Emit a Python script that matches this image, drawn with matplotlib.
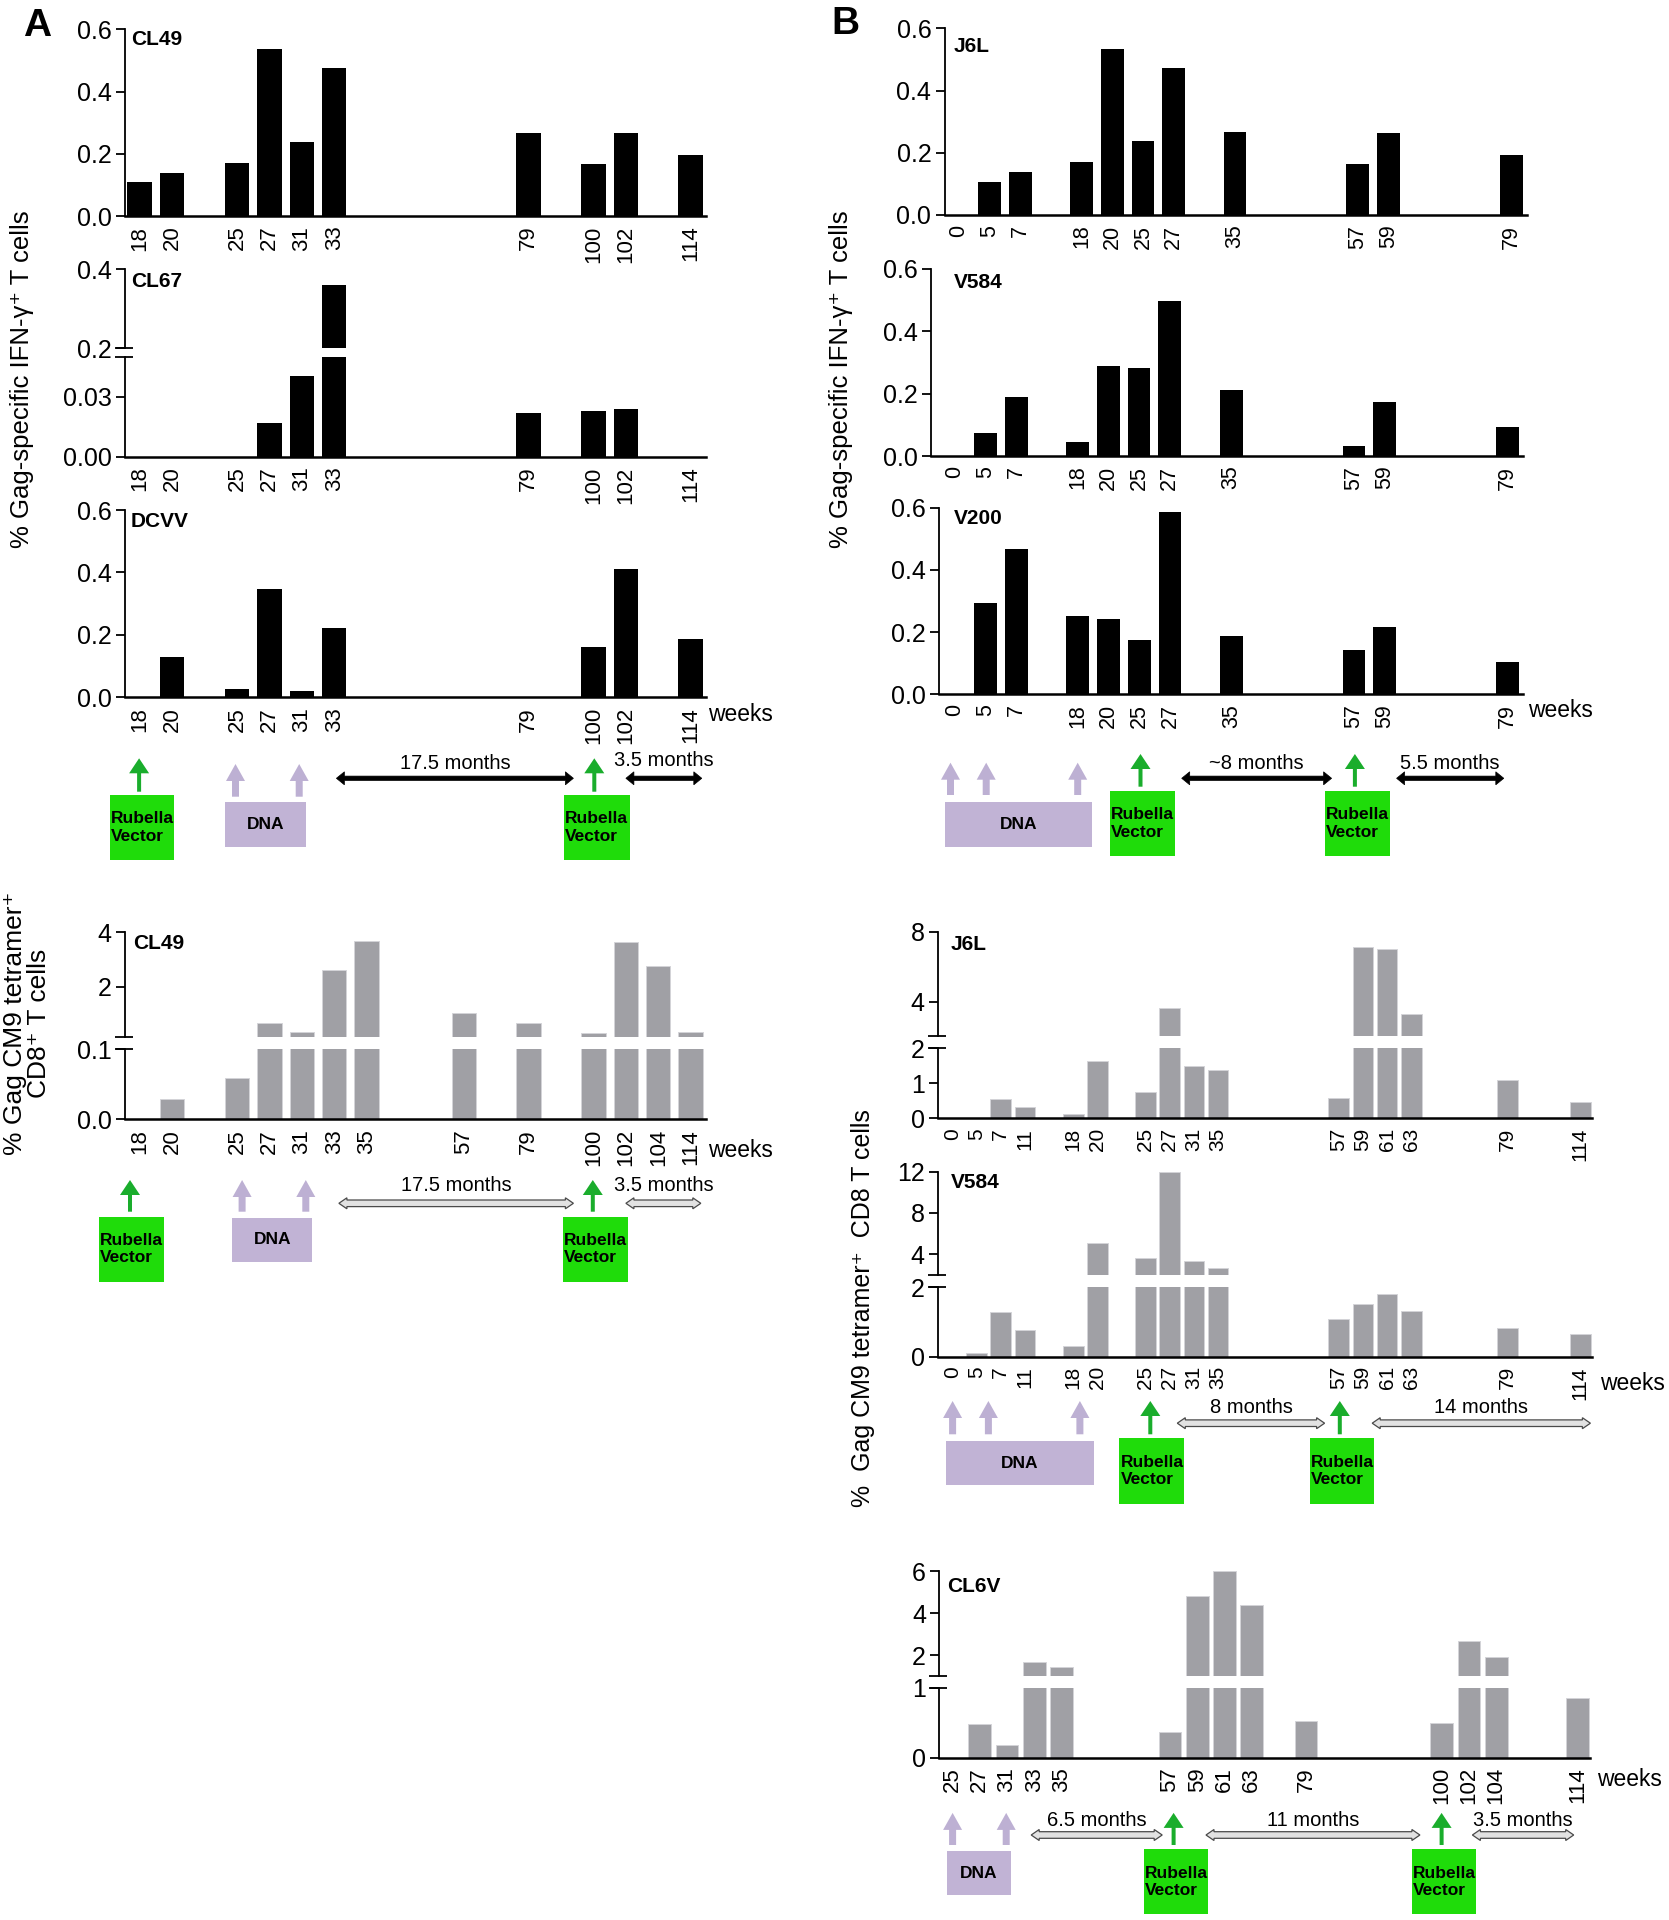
import matplotlib
matplotlib.use('Agg')
import matplotlib.pyplot as plt
from matplotlib.patches import Rectangle, Polygon, FancyArrow

W, H = 1669, 1920
NARROW = ['Liberation Sans Narrow', 'Liberation Sans', 'DejaVu Sans']
SANS = ['Liberation Sans', 'DejaVu Sans']
plt.rcParams['font.family'] = SANS

GREY = '#a0a0a5'
GREEN_BOX = '#1fdc0a'
GREEN_ARR = '#1aad2c'
LAV_BOX = '#c1b3d5'
LAV_ARR = '#bdb0d3'

# ---------------- data ----------------
# A: Gag-specific IFN-g+ T cells (%)
a_ifn_weeks = [18, 20, 25, 27, 31, 33, 79, 100, 102, 114]
cl49_ifn = [0.108, 0.139, 0.171, 0.536, 0.238, 0.475, 0.267, 0.166, 0.266, 0.195]
cl67_ifn = [0, 0, 0, 0.017, 0.0405, 0.36, 0.0217, 0.0227, 0.0237, 0]
dcvv_ifn = [0, 0.130, 0.025, 0.348, 0.019, 0.222, 0, 0.162, 0.41, 0.188]

# A: Gag CM9 tetramer+ CD8+ T cells (%)
a_tet_weeks = [18, 20, 25, 27, 31, 33, 35, 57, 79, 100, 102, 104, 114]
cl49_tet = [0, 0.029, 0.059, 0.675, 0.33, 2.6, 3.67, 1.04, 0.65, 0.28, 3.66, 2.75, 0.34]

# B: Gag-specific IFN-g+ T cells (%)
b_ifn_weeks = [0, 5, 7, 18, 20, 25, 27, 35, 57, 59, 79]
j6l_ifn = [0, 0.107, 0.137, 0.169, 0.535, 0.237, 0.474, 0.266, 0.165, 0.264, 0.193]
v584_ifn = [0, 0.073, 0.188, 0.045, 0.288, 0.281, 0.496, 0.211, 0.032, 0.172, 0.093]
v200_ifn = [0, 0.2925, 0.468, 0.253, 0.241, 0.175, 0.586, 0.186, 0.141, 0.215, 0.104]

# B: Gag CM9 tetramer+ CD8 T cells (%)
b_tet_weeks = [0, 5, 7, 11, 18, 20, 25, 27, 31, 35, 57, 59, 61, 63, 79, 114]
j6l_tet = [0, 0, 0.55, 0.31, 0.11, 1.65, 0.76, 3.66, 1.50, 1.37, 0.57, 7.14, 6.99, 3.28, 1.10, 0.46]
v584_tet = [0, 0.09, 1.28, 0.76, 0.29, 5.06, 3.65, 12.0, 3.32, 2.68, 1.08, 1.51, 1.80, 1.32, 0.82, 0.64]

cl6v_weeks = [25, 27, 31, 33, 35, 57, 59, 61, 63, 79, 100, 102, 104, 114]
cl6v_tet = [0, 0.477, 0.18, 1.66, 1.41, 0.37, 4.83, 6.0, 4.38, 0.53, 0.49, 2.66, 1.93, 0.85]

# category slots on the x axis (gaps kept as in the figure)
a_pos = {18: 0, 20: 1, 25: 3, 27: 4, 31: 5, 33: 6, 35: 7, 57: 10, 79: 12,
         100: 14, 102: 15, 104: 16, 114: 17}
b_ifn_pos = {0: 0, 5: 1, 7: 2, 18: 4, 20: 5, 25: 6, 27: 7, 35: 9, 57: 13, 59: 14, 79: 18}
b_tet_pos = {0: 0, 5: 1, 7: 2, 11: 3, 18: 5, 20: 6, 25: 8, 27: 9, 31: 10, 35: 11,
             57: 16, 59: 17, 61: 18, 63: 19, 79: 23, 114: 26}
cl6v_pos = {25: 0, 27: 1, 31: 2, 33: 3, 35: 4, 57: 8, 59: 9, 61: 10, 63: 11, 79: 13,
            100: 18, 102: 19, 104: 20, 114: 23}

fig = plt.figure(figsize=(W / 100, H / 100), dpi=100)


def px_axes(left, top, right, bottom):
    return fig.add_axes([left / W, 1 - bottom / H, (right - left) / W, (bottom - top) / H])


def ftext(x, y, s, **kw):
    fig.text(x / W, 1 - y / H, s, **kw)


def bar_block(left, right, segs, xlim, weeks, vals, pos, color, width, xfs=16):
    x = [pos[w] for w in weeks]
    edge = 'none' if color == 'black' else '#d4d4d8'
    n = len(segs)
    for i, (top, bottom, ylim, ticks, labels) in enumerate(segs):
        ax = px_axes(left, top, right, bottom)
        ax.patch.set_alpha(0)
        ax.bar(x, vals, width=width, color=color, edgecolor=edge, linewidth=0.7)
        ax.set_xlim(*xlim)
        ax.set_ylim(*ylim)
        ax.spines[['top', 'right']].set_visible(False)
        ax.spines['left'].set_linewidth(1.3)
        ax.set_yticks(ticks)
        ax.set_yticklabels(labels, family=NARROW, fontsize=18)
        ax.tick_params(axis='y', length=6.5, width=1.3, pad=3)
        last = i == n - 1
        if last:
            ax.spines['bottom'].set_linewidth(1.8)
            ax.set_xticks(x)
            ax.set_xticklabels([str(w) for w in weeks], rotation=90, fontsize=xfs)
            ax.tick_params(axis='x', length=0, pad=7)
        else:
            ax.spines['bottom'].set_visible(False)
            ax.set_xticks([])
        if n > 1:
            wpx = right - left
            ys = []
            if i > 0:
                ys.append(1)
            if not last:
                ys.append(0)
            for yy in ys:
                ax.plot([-10 / wpx, 8 / wpx], [yy, yy], transform=ax.transAxes,
                        color='black', lw=1.3, clip_on=False, solid_capstyle='butt')


def name(x, y, s):
    ftext(x, y, s, fontsize=15, fontweight='bold', ha='left', va='center')


# ---------------- panel A ----------------
ax_l, ax_r, a_xlim = 124.9, 705.9, (-0.457, 17.47)
bar_block(ax_l, ax_r, [(29.3, 216, (0, 0.6), [0, 0.2, 0.4, 0.6], ['0.0', '0.2', '0.4', '0.6'])],
          a_xlim, a_ifn_weeks, cl49_ifn, a_pos, 'black', 0.755)
name(131, 39.5, 'CL49')

bar_block(ax_l, ax_r, [(269.3, 348.3, (0.2, 0.4), [0.2, 0.4], ['0.2', '0.4']),
                       (357.3, 456.7, (0, 0.0497), [0, 0.03], ['0.00', '0.03'])],
          a_xlim, a_ifn_weeks, cl67_ifn, a_pos, 'black', 0.755)
name(131, 281.7, 'CL67')

bar_block(ax_l, ax_r, [(510, 697.3, (0, 0.6), [0, 0.2, 0.4, 0.6], ['0.0', '0.2', '0.4', '0.6'])],
          a_xlim, a_ifn_weeks, dcvv_ifn, a_pos, 'black', 0.755)
name(131, 521.7, 'DCVV')
ftext(708.5, 715, 'weeks', fontsize=16.5, ha='left', va='center')

bar_block(ax_l, ax_r, [(932.3, 1037.3, (0.14, 4), [2, 4], ['2', '4']),
                       (1049.3, 1119.3, (0, 0.1), [0, 0.1], ['0.0', '0.1'])],
          a_xlim, a_tet_weeks, cl49_tet, a_pos, GREY, 0.755)
name(133, 943, 'CL49')
ftext(708.5, 1150.7, 'weeks', fontsize=16.5, ha='left', va='center')

ftext(22, 379, '% Gag-specific IFN-γ⁺ T cells', fontsize=18.5, rotation=90,
      ha='center', va='center')
ftext(27, 1023.5, '% Gag CM9 tetramer⁺\nCD8⁺ T cells', fontsize=19, rotation=90,
      ha='center', va='center', linespacing=1.05)
ftext(37, 26, 'A', fontsize=28, fontweight='bold', ha='center', va='center')

# ---------------- panel B ----------------
ifn_ticks = [0, 0.2, 0.4, 0.6]
ifn_labels = ['0.0', '0.2', '0.4', '0.6']
bar_block(944.5, 1526.6, [(28.3, 215, (0, 0.6), ifn_ticks, ifn_labels)],
          (-0.466, 18.5), b_ifn_weeks, j6l_ifn, b_ifn_pos, 'black', 0.74, xfs=15.5)
name(954, 46, 'J6L')
bar_block(931, 1522.8, [(268.7, 456, (0, 0.6), ifn_ticks, ifn_labels)],
          (-0.78, 18.5), b_ifn_weeks, v584_ifn, b_ifn_pos, 'black', 0.74, xfs=15.5)
name(954, 283, 'V584')
bar_block(939.1, 1522.8, [(507.7, 694.3, (0, 0.6), ifn_ticks, ifn_labels)],
          (-0.52, 18.5), b_ifn_weeks, v200_ifn, b_ifn_pos, 'black', 0.74, xfs=15.5)
name(954, 519, 'V200')
ftext(1528, 710, 'weeks', fontsize=16.5, ha='left', va='center')

bar_block(938, 1591.5, [(931.7, 1036, (2.04, 8), [4, 8], ['4', '8']),
                        (1048.3, 1118.3, (0, 2), [0, 1, 2], ['0', '1', '2'])],
          (-0.6, 26.47), b_tet_weeks, j6l_tet, b_tet_pos, GREY, 0.86, xfs=15)
name(951, 944.5, 'J6L')
bar_block(938, 1591.5, [(1171.7, 1275, (1.96, 12), [4, 8, 12], ['4', '8', '12']),
                        (1287.3, 1356.5, (0, 2), [0, 2], ['0', '2'])],
          (-0.6, 26.47), b_tet_weeks, v584_tet, b_tet_pos, GREY, 0.86, xfs=15)
name(951, 1182.5, 'V584')
ftext(1599.7, 1383.2, 'weeks', fontsize=16.5, ha='left', va='center')

bar_block(939.1, 1590.4, [(1571.4, 1676.4, (0.98, 6), [2, 4, 6], ['2', '4', '6']),
                          (1687.9, 1757.5, (0, 1), [0, 1], ['0', '1'])],
          (-0.5, 23.47), cl6v_weeks, cl6v_tet, cl6v_pos, GREY, 0.84, xfs=16)
name(947, 1586, 'CL6V')
ftext(1597, 1779.6, 'weeks', fontsize=16.5, ha='left', va='center')

ftext(841, 379, '% Gag-specific IFN-γ⁺ T cells', fontsize=18.5, rotation=90,
      ha='center', va='center')
ftext(863, 1308, '%  Gag CM9 tetramer⁺  CD8 T cells', fontsize=18, rotation=90,
      ha='center', va='center')
ftext(845, 24, 'B', fontsize=28, fontweight='bold', ha='center', va='center')

# ---------------- vaccination timelines ----------------
ov = fig.add_axes([0, 0, 1, 1])
ov.set_xlim(0, W)
ov.set_ylim(H, 0)
ov.set_axis_off()


def up_arrow(x, tip, base, color, shaft, head_w, head_l):
    ov.add_patch(FancyArrow(x, base, 0, tip - base, width=shaft, head_width=head_w,
                            head_length=head_l, length_includes_head=True,
                            color=color, lw=0))


def box(x0, y0, x1, y1, color, text):
    ov.add_patch(Rectangle((x0, y0), x1 - x0, y1 - y0, fc=color, ec='none'))
    ov.text((x0 + x1) / 2, (y0 + y1) / 2, text, ha='center', va='center',
            fontsize=12.5, fontweight='bold', multialignment='left')


def dbl_arrow(x0, x1, y, text, ty, hollow):
    if hollow:
        hs, hw, hl, fc, ec, lw = 3.3, 5.5, 8, '#e2e2e2', '#4a4a4a', 0.9
    else:
        hs, hw, hl, fc, ec, lw = 2.2, 6.5, 8, 'black', 'black', 0.5
    pts = [(x0, y), (x0 + hl, y - hw), (x0 + hl, y - hs), (x1 - hl, y - hs),
           (x1 - hl, y - hw), (x1, y), (x1 - hl, y + hw), (x1 - hl, y + hs),
           (x0 + hl, y + hs), (x0 + hl, y + hw)]
    ov.add_patch(Polygon(pts, closed=True, fc=fc, ec=ec, lw=lw, joinstyle='miter'))
    ov.text((x0 + x1) / 2, ty, text, ha='center', va='center', fontsize=14.5)


def green(x, tip, base, bx):
    up_arrow(x, tip, base, GREEN_ARR, 4, 20, 15)
    box(bx[0], bx[1], bx[2], bx[3], GREEN_BOX, 'Rubella\nVector')


def lavender(xs, tip, base, bx):
    for x in xs:
        up_arrow(x, tip, base, LAV_ARR, 7, 19, 17)
    box(bx[0], bx[1], bx[2], bx[3], LAV_BOX, 'DNA')


# A, IFN
green(139.1, 758.3, 791.7, (109.6, 795, 174.3, 860))
green(594.3, 758.3, 791.7, (563.7, 795, 630, 860))
lavender([235.5, 299.2], 764, 796.7, (224.8, 801.7, 306.3, 846.7))
dbl_arrow(336.4, 573.4, 778.3, '17.5 months', 763.3, False)
dbl_arrow(625.9, 701.8, 778.3, '3.5 months', 761, False)

# A, tetramer
green(130, 1180, 1211.7, (99.4, 1216.7, 164.1, 1281.7))
green(592.8, 1180, 1211.7, (563.2, 1216.7, 627.9, 1281.7))
lavender([242.1, 305.8], 1180, 1211.7, (231.9, 1218.3, 312.4, 1261.7))
dbl_arrow(338.9, 573.4, 1203.3, '17.5 months', 1185.7, True)
dbl_arrow(625.9, 700.8, 1203.3, '3.5 months', 1185.7, True)

# B, IFN
lavender([950.5, 986.2, 1077.7], 762.7, 795, (944.5, 801.7, 1091.8, 846.7))
green(1140.5, 754, 786.7, (1109.7, 790.7, 1174.6, 856))
green(1354.9, 754, 786.7, (1324.6, 790.7, 1389.6, 856))
dbl_arrow(1181.7, 1331.6, 778.3, '~8 months', 763.3, False)
dbl_arrow(1396.6, 1503.8, 778.3, '5.5 months', 763.3, False)

# B, tetramer V584
lavender([952.6, 988.4, 1079.9], 1401, 1434.3, (946.2, 1441, 1094, 1485))
green(1150.3, 1401, 1434.3, (1119.4, 1438.2, 1184.4, 1503.6))
green(1339.8, 1401, 1434.3, (1309.5, 1438.2, 1374.4, 1503.6))
dbl_arrow(1177.3, 1324.6, 1423.2, '8 months', 1407.5, True)
dbl_arrow(1372.2, 1590.4, 1423.2, '14 months', 1407.5, True)

# B, tetramer CL6V
lavender([952.6, 1006.2], 1812.9, 1845, (947.2, 1851, 1010.6, 1895))
green(1173.6, 1812.9, 1845, (1143.8, 1849.3, 1208.2, 1914.3))
green(1441.6, 1812.9, 1845, (1411.8, 1849.3, 1476.2, 1914.3))
dbl_arrow(1031.2, 1162.2, 1835, '6.5 months', 1820, True)
dbl_arrow(1206, 1419.9, 1835, '11 months', 1820, True)
dbl_arrow(1472.4, 1573.7, 1835, '3.5 months', 1820, True)

fig.savefig('out.png', dpi=100)
